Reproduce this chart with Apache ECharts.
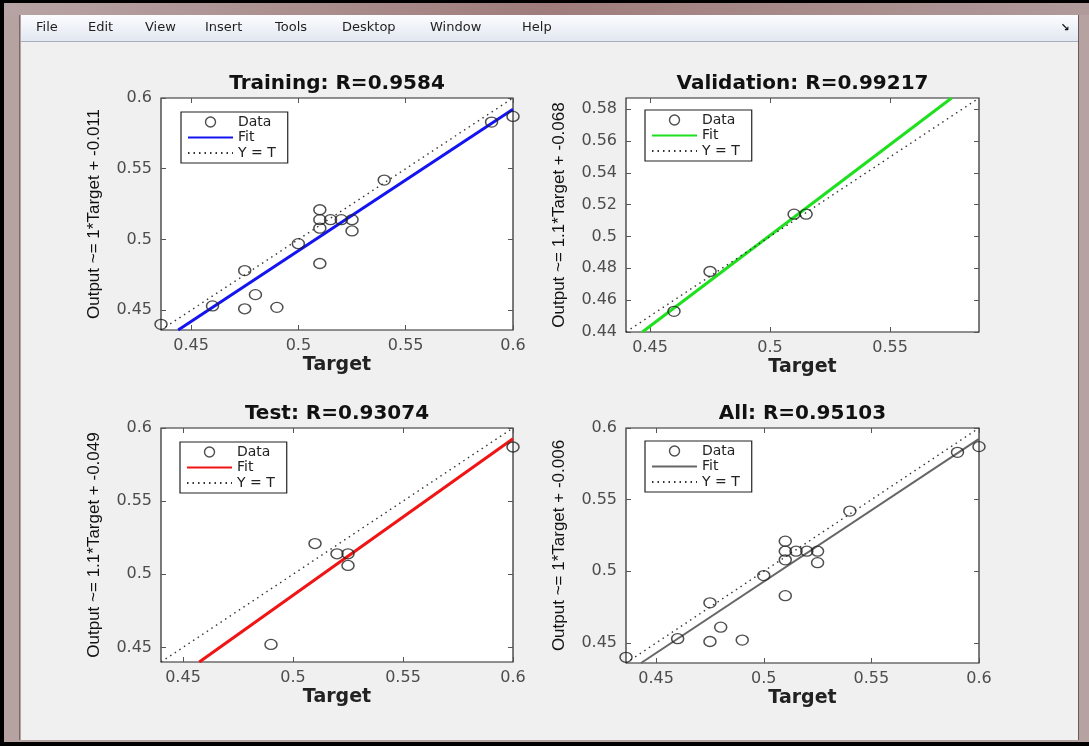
<!DOCTYPE html>
<html>
<head>
<meta charset="utf-8">
<script src="https://cdn.jsdelivr.net/npm/echarts@6/dist/echarts.min.js"></script>
<style>
  html, body { margin: 0; padding: 0; background: #000; }
  #mychart { width: 1089px; height: 746px; }
</style>
</head>
<body>
<div id="mychart"></div>
<script>
"use strict";
// values
const trainTarget = [0.436, 0.46, 0.475, 0.475, 0.48, 0.49, 0.5, 0.51, 0.51, 0.51, 0.51, 0.515, 0.52, 0.525, 0.525, 0.54, 0.59, 0.6];
const trainOutput = [0.44, 0.453, 0.478, 0.451, 0.461, 0.452, 0.497, 0.521, 0.514, 0.508, 0.483, 0.514, 0.514, 0.514, 0.506, 0.542, 0.583, 0.587];
const valTarget = [0.46, 0.475, 0.51, 0.515];
const valOutput = [0.453, 0.478, 0.514, 0.514];
const testTarget = [0.49, 0.51, 0.52, 0.525, 0.525, 0.6];
const testOutput = [0.452, 0.521, 0.514, 0.514, 0.506, 0.587];
const allTarget = [0.436, 0.46, 0.475, 0.475, 0.48, 0.49, 0.5, 0.51, 0.51, 0.51, 0.51, 0.515, 0.52, 0.525, 0.525, 0.54, 0.59, 0.6];
const allOutput = [0.44, 0.453, 0.478, 0.451, 0.461, 0.452, 0.497, 0.521, 0.514, 0.508, 0.483, 0.514, 0.514, 0.514, 0.506, 0.542, 0.583, 0.587];

// fit line end points [target, output]
const trainFit = [[0.444, 0.436], [0.6, 0.592]];
const valFit = [[0.4468, 0.44], [0.5756, 0.587]];
const testFit = [[0.4574, 0.44], [0.6, 0.5927]];
const allFit = [[0.443, 0.436], [0.6, 0.5924]];

// axis ranges and ticks
const trainRange = [0.436, 0.6];
const valRange = [0.44, 0.587];
const testRange = [0.44, 0.6];
const allRange = [0.436, 0.6];
const ticks05 = [0.45, 0.5, 0.55, 0.6];
const valXTicks = [0.45, 0.5, 0.55];
const valYTicks = [0.44, 0.46, 0.48, 0.5, 0.52, 0.54, 0.56, 0.58];

const menuItems = ['File', 'Edit', 'View', 'Insert', 'Tools', 'Desktop', 'Window', 'Help'];
const menuX = [36, 88, 145, 205, 275, 342, 430, 522];

const panels = [
    { key: 'Training', title: 'Training: R=0.9584', ylabel: 'Output ~= 1*Target + -0.011', color: '#1414f0', lw: 3,
      target: trainTarget, output: trainOutput, fit: trainFit, range: trainRange, xt: ticks05, yt: ticks05,
      box: [161, 98, 352, 232], legend: [181, 112] },
    { key: 'Validation', title: 'Validation: R=0.99217', ylabel: 'Output ~= 1.1*Target + -0.068', color: '#1ee01e', lw: 3,
      target: valTarget, output: valOutput, fit: valFit, range: valRange, xt: valXTicks, yt: valYTicks,
      box: [626, 98, 353, 234], legend: [645, 110] },
    { key: 'Test', title: 'Test: R=0.93074', ylabel: 'Output ~= 1.1*Target + -0.049', color: '#f01414', lw: 3,
      target: testTarget, output: testOutput, fit: testFit, range: testRange, xt: ticks05, yt: ticks05,
      box: [161, 428, 352, 234], legend: [180, 442] },
    { key: 'All', title: 'All: R=0.95103', ylabel: 'Output ~= 1*Target + -0.006', color: '#666666', lw: 2,
      target: allTarget, output: allOutput, fit: allFit, range: allRange, xt: ticks05, yt: ticks05,
      box: [626, 428, 353, 235], legend: [645, 441] }
];

const labelFont = { fontFamily: 'DejaVu Sans', fontSize: 16, color: '#4d4d4d' };

const grids = [], xAxes = [], yAxes = [], series = [], titles = [], legends = [];
panels.forEach((p, i) => {
    const [l, t, w, h] = p.box;
    grids.push({ left: l, top: t, width: w, height: h, show: true, backgroundColor: '#fff',
        borderColor: '#262626', borderWidth: 1.2 });
    const tick = vals => ({ show: true, inside: true, length: 5, customValues: vals,
        lineStyle: { color: '#555', width: 1 } });
    xAxes.push({
        type: 'value', gridIndex: i, position: 'bottom', min: p.range[0], max: p.range[1],
        axisLine: { show: false }, splitLine: { show: false }, axisTick: tick(p.xt),
        axisLabel: Object.assign({ customValues: p.xt, margin: 8 }, labelFont),
        name: 'Target', nameLocation: 'middle', nameGap: 26,
        nameTextStyle: { fontFamily: 'DejaVu Sans', fontWeight: 'bold', fontSize: 19, color: '#222' }
    });
    xAxes.push({
        type: 'value', gridIndex: i, position: 'top', min: p.range[0], max: p.range[1],
        axisLine: { show: false }, splitLine: { show: false }, axisTick: tick(p.xt),
        axisLabel: { show: false }
    });
    yAxes.push({
        type: 'value', gridIndex: i, position: 'left', min: p.range[0], max: p.range[1],
        axisLine: { show: false }, splitLine: { show: false }, axisTick: tick(p.yt),
        axisLabel: Object.assign({ customValues: p.yt, margin: 9 }, labelFont),
        name: p.ylabel, nameLocation: 'middle', nameGap: 58, nameRotate: 90,
        nameTextStyle: { fontFamily: 'Liberation Sans', fontSize: 17, color: '#111' }
    });
    yAxes.push({
        type: 'value', gridIndex: i, position: 'right', min: p.range[0], max: p.range[1],
        axisLine: { show: false }, splitLine: { show: false }, axisTick: tick(p.yt),
        axisLabel: { show: false }
    });
    const ax = { xAxisIndex: 2 * i, yAxisIndex: 2 * i };
    series.push(Object.assign({
        type: 'scatter', name: p.key + '|Data', symbol: 'circle', symbolSize: [12, 10], z: 5,
        itemStyle: { color: 'rgba(0,0,0,0)', borderColor: '#222', borderWidth: 1.4 },
        data: p.target.map((v, k) => [v, p.output[k]])
    }, ax));
    series.push(Object.assign({
        type: 'line', name: p.key + '|Fit', symbol: 'none', z: 3,
        lineStyle: { color: p.color, width: p.lw }, itemStyle: { color: p.color },
        data: p.fit
    }, ax));
    series.push(Object.assign({
        type: 'line', name: p.key + '|Y = T', symbol: 'none', z: 4,
        lineStyle: { color: '#333', width: 1.4, type: [1.5, 4] }, itemStyle: { color: '#333' },
        data: [[p.range[0], p.range[0]], [p.range[1], p.range[1]]]
    }, ax));
    titles.push({
        text: p.title, left: l + w / 2, top: t - 24, textAlign: 'center', padding: 0,
        textStyle: { fontFamily: 'DejaVu Sans', fontWeight: 'bold', fontSize: 20, color: '#111' }
    });
    const noMark = { opacity: 0, borderWidth: 0 };
    legends.push({
        orient: 'vertical', left: p.legend[0], top: p.legend[1], padding: [3, 12, 3, 6],
        itemWidth: 45, itemHeight: 10, itemGap: 1.5, selectedMode: false,
        backgroundColor: '#fff', borderColor: '#222', borderWidth: 1.2, borderRadius: 0,
        textStyle: { fontFamily: 'DejaVu Sans', fontSize: 14, color: '#222', lineHeight: 14 },
        formatter: name => name.split('|')[1],
        data: [
            { name: p.key + '|Data', icon: 'circle',
              itemStyle: { color: 'rgba(0,0,0,0)', borderColor: '#222', borderWidth: 1.4 } },
            { name: p.key + '|Fit', itemStyle: noMark },
            { name: p.key + '|Y = T', itemStyle: noMark }
        ]
    });
});

// window frame and menu bar
const frame = [
    { type: 'rect', shape: { x: 4, y: 3, width: 1085, height: 739 }, style: { fill: '#b7a2a2' }, z: -10 },
    { type: 'rect', shape: { x: 4, y: 3, width: 1085, height: 12 },
      style: { fill: new echarts.graphic.LinearGradient(0, 0, 1, 0, [
          { offset: 0, color: '#b8a4a4' }, { offset: 0.5, color: '#a07c7c' }, { offset: 1, color: '#b09a9a' }]) }, z: -10 },
    { type: 'rect', shape: { x: 19, y: 15, width: 1, height: 725 }, style: { fill: '#7a6868' }, z: -9 },
    { type: 'rect', shape: { x: 1078, y: 15, width: 1, height: 725 }, style: { fill: '#6a5a5a' }, z: -9 },
    { type: 'rect', shape: { x: 21, y: 15, width: 1057, height: 725 }, style: { fill: '#f0f0f0' }, z: -8 },
    { type: 'rect', shape: { x: 21, y: 15, width: 1057, height: 26 },
      style: { fill: new echarts.graphic.LinearGradient(0, 0, 0, 1, [
          { offset: 0, color: '#fbfcfe' }, { offset: 1, color: '#e2e8f1' }]) }, z: -7 },
    { type: 'rect', shape: { x: 21, y: 41, width: 1057, height: 1 }, style: { fill: '#a9afb8' }, z: -7 },
    { type: 'text', x: 1065, y: 28, style: { text: '\u2198', font: 'bold 11px DejaVu Sans', fill: '#111',
      textAlign: 'center', textVerticalAlign: 'middle' }, z: -6 }
];
menuItems.forEach((m, k) => {
    frame.push({ type: 'text', x: menuX[k], y: 28, z: -6,
        style: { text: m, font: '13px DejaVu Sans', fill: '#1e1e1e', textVerticalAlign: 'middle' } });
});

const container = document.getElementById('mychart');
const myChart = echarts.init(container, null, { renderer: 'canvas' });
const option = {
    backgroundColor: '#000',
    animation: false,
    title: titles,
    legend: legends,
    grid: grids,
    xAxis: xAxes,
    yAxis: yAxes,
    series: series,
    graphic: frame
};
myChart.setOption(option);
</script>
</body>
</html>
